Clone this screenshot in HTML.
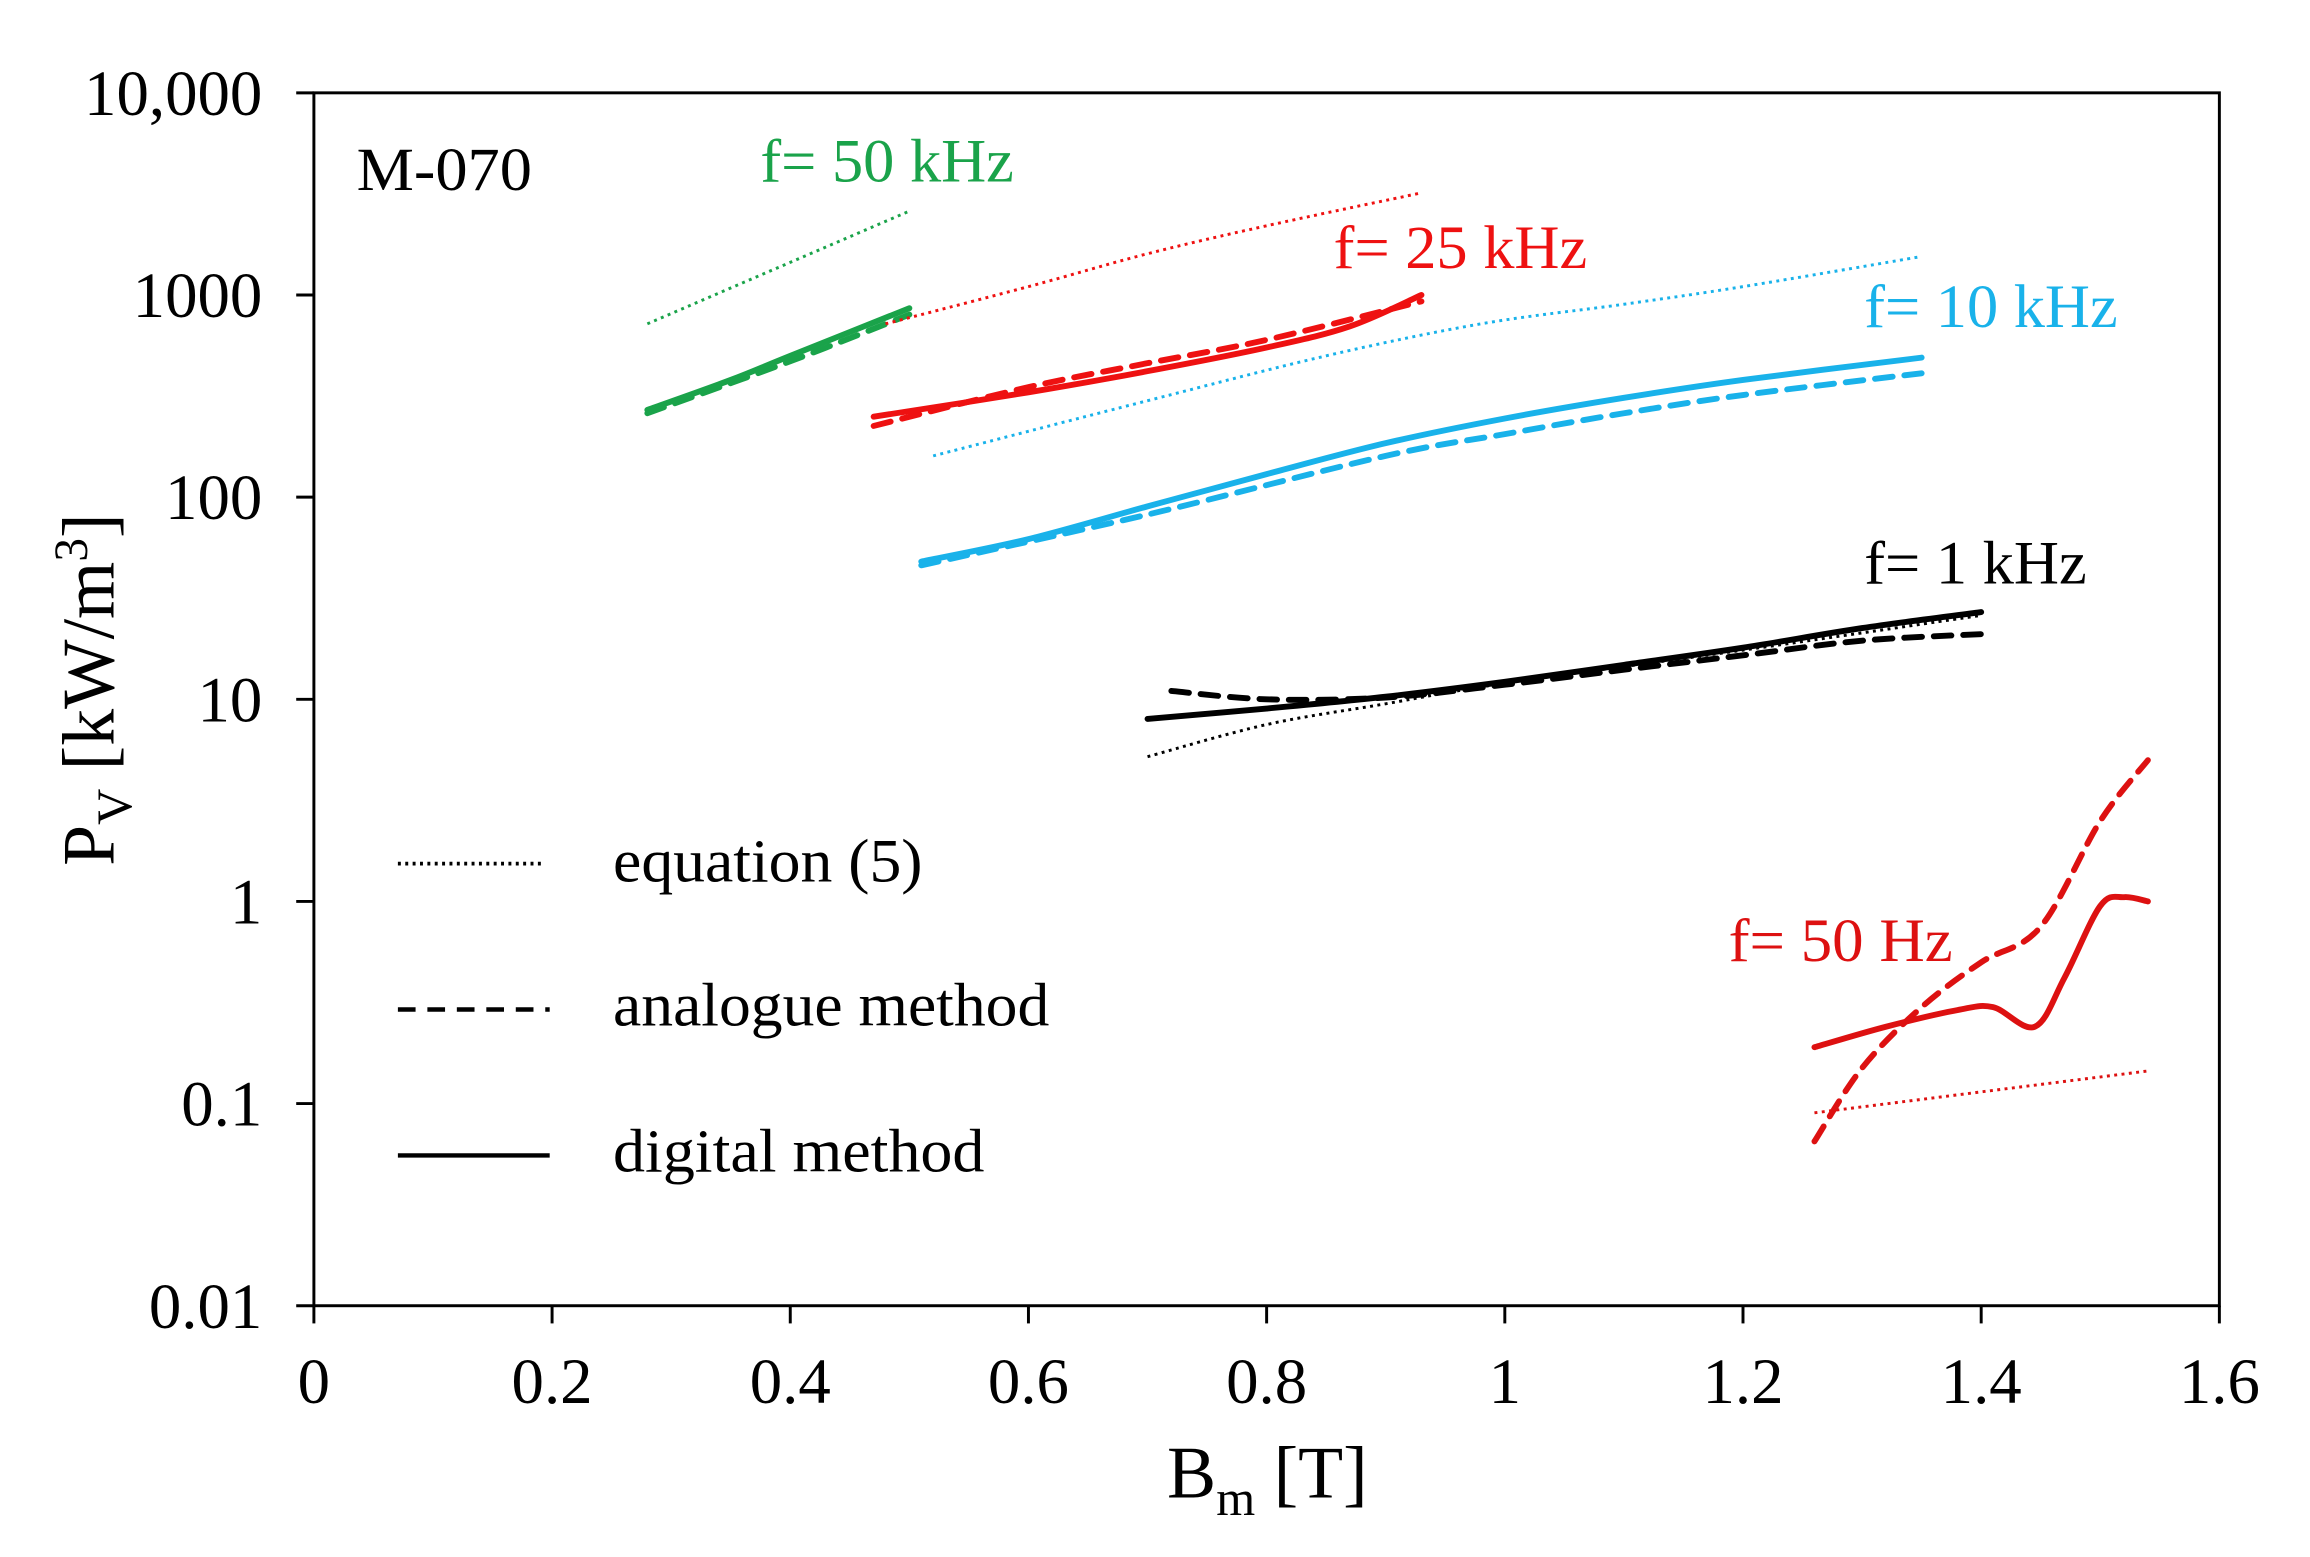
<!DOCTYPE html>
<html><head><meta charset="utf-8"><style>
html,body{margin:0;padding:0;background:#fff}
svg{display:block}
text{font-family:"Liberation Serif",serif}
</style></head><body>
<svg id="chart" width="2310" height="1557" viewBox="0 0 1567.5 1056.5" preserveAspectRatio="none" xmlns="http://www.w3.org/2000/svg">
<rect width="1567.5" height="1056.5" fill="#fff"/>
<g id="axes"></g>
<g id="series"></g>
<g id="labels">
<text x="242" y="129" font-size="42" textLength="119" lengthAdjust="spacingAndGlyphs" fill="#000">M-070</text>
<text x="516" y="123" font-size="42" textLength="172" lengthAdjust="spacingAndGlyphs" fill="#1aa34a">f= 50 kHz</text>
<text x="905" y="182" font-size="42" textLength="172" lengthAdjust="spacingAndGlyphs" fill="#ee1111">f= 25 kHz</text>
<text x="1265" y="222" font-size="42" textLength="172" lengthAdjust="spacingAndGlyphs" fill="#19b2ea">f= 10 kHz</text>
<text x="1265" y="396" font-size="42" textLength="151" lengthAdjust="spacingAndGlyphs" fill="#000">f= 1 kHz</text>
<text x="1173" y="652" font-size="42" textLength="152" lengthAdjust="spacingAndGlyphs" fill="#dd1111">f= 50 Hz</text>
<g>
<line x1="270" y1="586" x2="370" y2="586" stroke="#000" stroke-width="2.5" stroke-dasharray="2 3"/>
<text x="416" y="598" font-size="42" textLength="210" lengthAdjust="spacingAndGlyphs">equation (5)</text>
<line x1="270" y1="685" x2="373" y2="685" stroke="#000" stroke-width="3" stroke-dasharray="12 8"/>
<text x="416" y="696" font-size="42" textLength="296" lengthAdjust="spacingAndGlyphs">analogue method</text>
<line x1="270" y1="784" x2="373" y2="784" stroke="#000" stroke-width="3"/>
<text x="416" y="795" font-size="42" textLength="252" lengthAdjust="spacingAndGlyphs">digital method</text>
</g>
<text x="860" y="1016" font-size="50" text-anchor="middle">B<tspan font-size="34" dy="12">m</tspan><tspan dy="-12"> [T]</tspan></text>
<text transform="translate(77,468) rotate(-90)" font-size="50" text-anchor="middle">P<tspan font-size="34" dy="12">V</tspan><tspan dy="-12"> [kW/m</tspan><tspan font-size="32" dy="-18">3</tspan><tspan dy="18">]</tspan></text>
</g>
</svg>
<script>
const xTicks=[0,0.2,0.4,0.6,0.8,1,1.2,1.4,1.6];
const xTickLabels=["0","0.2","0.4","0.6","0.8","1","1.2","1.4","1.6"];
const yTicks=[0.01,0.1,1,10,100,1000,10000];
const yTickLabels=["0.01","0.1","1","10","100","1000","10,000"];
const eq50k_B=[0.28,0.5], eq50k_P=[720,2600];
const dig50k_B=[0.28,0.35,0.4,0.5], dig50k_P=[270,380,500,860];
const ana50k_B=[0.28,0.4,0.5], ana50k_P=[260,470,800];
const eq25k_B=[0.48,0.6,0.7,0.8,0.93], eq25k_P=[720,1100,1600,2200,3200];
const dig25k_B=[0.47,0.6,0.7,0.8,0.87,0.93], dig25k_P=[250,330,420,550,700,1000];
const ana25k_B=[0.47,0.6,0.7,0.8,0.93], ana25k_P=[225,350,460,600,930];
const eq10k_B=[0.52,0.7,0.85,0.98,1.1,1.2,1.35], eq10k_P=[160,300,500,720,900,1100,1550];
const dig10k_B=[0.51,0.6,0.7,0.8,0.9,1.0,1.1,1.2,1.35], dig10k_P=[48,62,90,130,185,245,310,380,490];
const ana10k_B=[0.51,0.7,0.9,1.0,1.1,1.2,1.35], ana10k_P=[46,82,160,205,260,320,410];
const eq1k_B=[0.7,0.8,0.9,1.0,1.2,1.4], eq1k_P=[5.2,7.5,9.5,12,17.5,26];
const dig1k_B=[0.7,0.8,0.9,1.0,1.1,1.2,1.3,1.4], dig1k_P=[8,9,10.3,12.2,14.8,18,22.5,27];
const ana1k_B=[0.72,0.8,0.9,1.0,1.1,1.2,1.3,1.4], ana1k_P=[11,10,10.2,11.8,14,16.5,19.5,21];
const eq50_B=[1.26,1.54], eq50_P=[0.09,0.145];
const dig50_B=[1.26,1.32,1.38,1.41,1.445,1.47,1.5,1.52,1.54], dig50_P=[0.19,0.24,0.29,0.3,0.24,0.42,0.95,1.05,1.0];
const ana50_B=[1.26,1.3,1.35,1.4,1.45,1.5,1.54], ana50_P=[0.065,0.15,0.3,0.5,0.75,2.5,5];

const X0=213,X1=1506,Y0=886,Y1=63;
const xs=b=>X0+(b-0)/(1.6)*(X1-X0);
const ys=p=>Y0-(Math.log10(p)+2)/6*(Y0-Y1);
const NS="http://www.w3.org/2000/svg";
const axes=document.getElementById('axes'), ser=document.getElementById('series');
function mk(tag,attrs,parent){const e=document.createElementNS(NS,tag);for(const k in attrs)e.setAttribute(k,attrs[k]);parent.appendChild(e);return e;}
const frame=mk('rect',{x:X0,y:Y1,width:X1-X0,height:Y0-Y1,fill:'none',stroke:'#000','stroke-width':2},axes);


xTicks.forEach((v,i)=>{
  const t=mk('line',{x1:xs(v),x2:xs(v),y1:Y0,y2:Y0+12,stroke:'#000','stroke-width':2},axes);
  
  
  const l=mk('text',{x:xs(v),y:Y0+66,'font-size':44,'text-anchor':'middle'},axes);
  l.textContent=xTickLabels[i];
  
  
});
yTicks.forEach((v,i)=>{
  const t=mk('line',{x1:X0-12,x2:X0,y1:ys(v),y2:ys(v),stroke:'#000','stroke-width':2},axes);
  
  
  const l=mk('text',{x:X0-35,y:ys(v)+15,'font-size':44,'text-anchor':'end'},axes);
  l.textContent=yTickLabels[i];
  
  
});
function pathD(B,P){
  const pts=B.map((b,i)=>[xs(b),ys(P[i])]);
  if(pts.length<3)return 'M'+pts.map(p=>p.join(',')).join(' L');
  let d='M'+pts[0][0]+','+pts[0][1];
  for(let i=0;i<pts.length-1;i++){
    const p0=pts[Math.max(0,i-1)],p1=pts[i],p2=pts[i+1],p3=pts[Math.min(pts.length-1,i+2)];
    const c1=[p1[0]+(p2[0]-p0[0])/6,p1[1]+(p2[1]-p0[1])/6];
    const c2=[p2[0]-(p3[0]-p1[0])/6,p2[1]-(p3[1]-p1[1])/6];
    d+=` C${c1[0]},${c1[1]} ${c2[0]},${c2[1]} ${p2[0]},${p2[1]}`;
  }
  return d;
}
const styles={eq:{w:2,dash:'2 3'},ana:{w:4,dash:'12 8'},dig:{w:4,dash:null}};
function draw(B,P,color,kind,name){
  const s=styles[kind];
  const a={d:pathD(B,P),fill:'none',stroke:color,'stroke-width':s.w,'stroke-linecap':'round','stroke-linejoin':'round'};
  if(s.dash)a['stroke-dasharray']=s.dash;
  if(kind==='eq'){a['stroke-linecap']='butt';}
  const p=mk('path',a,ser);
  
  
}
const G='#1aa34a',R='#ee1111',C='#19b2ea',K='#000',R2='#dd1111';
draw(eq50k_B,eq50k_P,G,'eq','series-50khz-equation');
draw(ana50k_B,ana50k_P,G,'ana','series-50khz-analogue');
draw(dig50k_B,dig50k_P,G,'dig','series-50khz-digital');
draw(eq25k_B,eq25k_P,R,'eq','series-25khz-equation');
draw(ana25k_B,ana25k_P,R,'ana','series-25khz-analogue');
draw(dig25k_B,dig25k_P,R,'dig','series-25khz-digital');
draw(eq10k_B,eq10k_P,C,'eq','series-10khz-equation');
draw(ana10k_B,ana10k_P,C,'ana','series-10khz-analogue');
draw(dig10k_B,dig10k_P,C,'dig','series-10khz-digital');
draw(eq1k_B,eq1k_P,K,'eq','series-1khz-equation');
draw(ana1k_B,ana1k_P,K,'ana','series-1khz-analogue');
draw(dig1k_B,dig1k_P,K,'dig','series-1khz-digital');
draw(eq50_B,eq50_P,R2,'eq','series-50hz-equation');
draw(ana50_B,ana50_P,R2,'ana','series-50hz-analogue');
draw(dig50_B,dig50_P,R2,'dig','series-50hz-digital');
</script>
</body></html>
